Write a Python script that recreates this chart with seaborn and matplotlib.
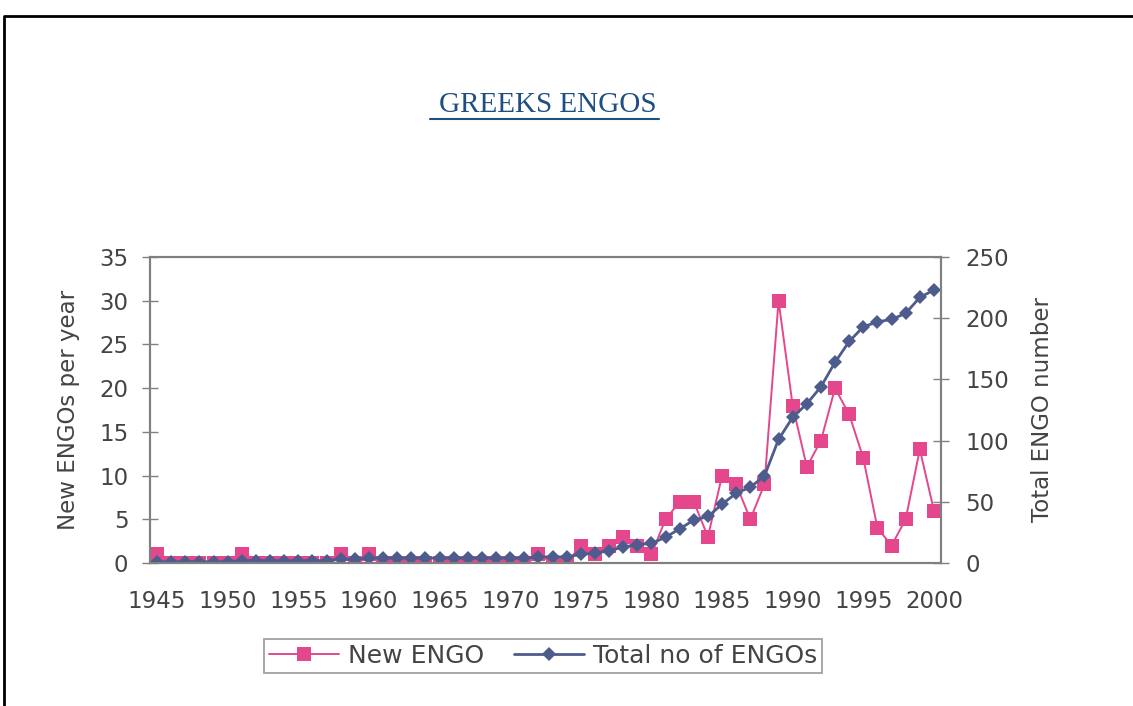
import numpy as np
import pandas as pd
import matplotlib
matplotlib.use("Agg")
import matplotlib.pyplot as plt
import seaborn as sns
from matplotlib.lines import Line2D
from matplotlib.ticker import MultipleLocator

sns.set_style("white")
plt.rcParams['font.family'] = ['DejaVu Sans']

# values
years = list(range(1945, 2001))
new_engo = [1, 0, 0, 0, 0, 0, 1, 0, 0, 0, 0, 0, 0, 1, 0, 1,
            0, 0, 0, 0, 0, 0, 0, 0, 0, 0, 0, 1, 0, 0, 2, 1,
            2, 3, 2, 1, 5, 7, 7, 3, 10, 9, 5, 9, 30, 18, 11, 14,
            20, 17, 12, 4, 2, 5, 13, 6]
total_engo = [1, 1, 1, 1, 1, 1, 2, 2, 2, 2, 2, 2, 2, 3, 3, 4,
              4, 4, 4, 4, 4, 4, 4, 4, 4, 4, 4, 5, 5, 5, 7, 8,
              10, 13, 15, 16, 21, 28, 35, 38, 48, 57, 62, 71, 101, 119, 130, 144,
              164, 181, 193, 197, 199, 204, 217, 223]
left_ticks = [0, 5, 10, 15, 20, 25, 30, 35]
right_ticks = [0, 50, 100, 150, 200, 250]

pink = '#E5478C'
blue = '#4D5C8C'
txt = '#444444'
spine = '#808080'

df = pd.DataFrame({'year': years, 'new': new_engo, 'total': total_engo})

W, H = 1133, 706
fig = plt.figure(figsize=(W / 100, H / 100), dpi=100)
ax = fig.add_axes([150 / W, 1 - 563 / H, (941 - 150) / W, (563 - 257) / H])
ax2 = ax.twinx()

sns.lineplot(data=df, x='year', y='new', ax=ax, color=pink, lw=1.4,
             marker='s', markersize=10, markeredgewidth=0, legend=False)
sns.lineplot(data=df, x='year', y='total', ax=ax2, color=blue, lw=2,
             marker='D', markersize=7, markeredgewidth=0, legend=False)

ax.set_xlim(1944.5, 2000.5)
ax.set_ylim(0, 35)
ax2.set_ylim(0, 250)
ax.set_yticks(left_ticks)
ax2.set_yticks(right_ticks)
ax.xaxis.set_major_locator(MultipleLocator(5))
ax.xaxis.set_minor_locator(MultipleLocator(1))

for a in (ax, ax2):
    for s in a.spines.values():
        s.set_color(spine)
        s.set_linewidth(1.5)
    a.tick_params(axis='both', which='both', direction='inout', length=11,
                  width=1, color=spine, labelsize=16.5, labelcolor=txt)
ax.tick_params(axis='y', pad=10)
ax2.tick_params(axis='y', pad=12)
ax.tick_params(axis='x', which='both', pad=14)

ax.set_xlabel('')
ax.set_ylabel('New ENGOs per year', fontsize=16.5, color=txt, labelpad=14)
ax2.set_ylabel('Total ENGO number', fontsize=16.5, color=txt, labelpad=16)

handles = [Line2D([], [], color=pink, lw=1.4, marker='s', markersize=10, markeredgewidth=0),
           Line2D([], [], color=blue, lw=2, marker='D', markersize=7, markeredgewidth=0)]
leg = fig.legend(handles, ['New ENGO', 'Total no of ENGOs'], loc='center',
                 bbox_to_anchor=(543 / W, 1 - 656 / H), ncol=2, fontsize=18,
                 frameon=True, fancybox=False, edgecolor=spine, handlelength=2.8,
                 handletextpad=0.35, columnspacing=1.2, borderpad=0.2,
                 borderaxespad=0, handleheight=0.7)
leg.get_frame().set_linewidth(1.2)
for t in leg.get_texts():
    t.set_color(txt)

# title with underline
title = fig.text(548 / W, 1 - 105 / H, 'GREEKS ENGOS', family='Liberation Serif',
                 fontsize=21, color='#1F4E80', ha='center', va='center')
fig.canvas.draw()
bb = title.get_window_extent()
fig.add_artist(Line2D([(bb.x0 - 9) / W, (bb.x1 + 2) / W], [(bb.y0 - 1) / H] * 2,
                      transform=fig.transFigure, color='#1F4E80', lw=1.5))

# page frame
fig.add_artist(Line2D([4 / W, 4 / W, 1], [0, 1 - 16 / H, 1 - 16 / H],
                      transform=fig.transFigure, color='black', lw=2))

fig.savefig('out.png', dpi=100)
